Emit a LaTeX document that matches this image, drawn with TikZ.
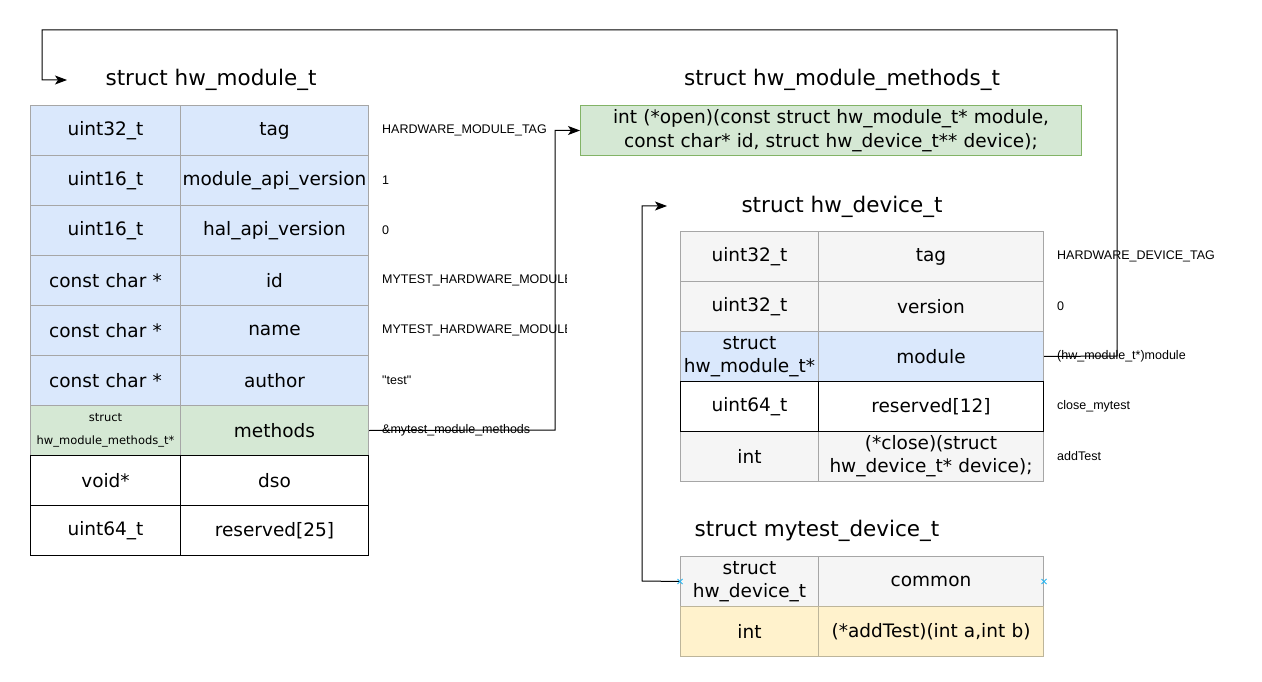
\documentclass[tikz,border=0pt]{standalone}
\usepackage{fontspec}
\setmainfont{DejaVu Sans}
\newfontfamily\labfont{Liberation Sans}
\usetikzlibrary{arrows.meta}
\definecolor{blueF}{HTML}{DAE8FC}
\definecolor{greenF}{HTML}{D5E8D4}
\definecolor{greyF}{HTML}{F5F5F5}
\definecolor{yellowF}{HTML}{FFF2CC}
\definecolor{cellB}{HTML}{A6A6A6}
\definecolor{greenB}{HTML}{82B366}
\definecolor{yellowB}{HTML}{BDB59A}
\definecolor{markB}{HTML}{29B6F2}
\tikzset{
  cellbox/.style={minimum height=50pt, inner sep=1pt, align=center, anchor=north west,
    font=\fontsize{18.5}{23}\selectfont, line width=1pt, draw=cellB},
  lcolA/.style={minimum width=150pt, text width=148pt},
  lcolB/.style={minimum width=188pt, text width=186pt},
  dcolA/.style={minimum width=138pt, text width=136pt},
  dcolB/.style={minimum width=225pt, text width=223pt},
  bluecell/.style={cellbox, fill=blueF},
  greencell/.style={cellbox, fill=greenF},
  greycell/.style={cellbox, fill=greyF},
  whitecell/.style={cellbox, fill=white, draw=black},
  yellowcell/.style={cellbox, fill=yellowF, draw=yellowB},
  titletext/.style={font=\fontsize{21.5}{24}\selectfont, inner sep=0},
  vallabel/.style={font=\labfont\fontsize{12.5}{14}\selectfont, anchor=west, inner sep=0},
  conn/.style={line width=1pt, draw=black},
  arrowconn/.style={conn, -{Stealth[length=12pt,width=9pt,inset=3pt]}},
}
\begin{document}
\begin{tikzpicture}[x=1pt,y=-1pt]
\useasboundingbox[fill=white] (0,0) rectangle (1262,682);

% ---------- struct hw_module_t ----------
\node[titletext] (tmod) at (211,80) {struct hw\_module\_t};
\node[bluecell,lcolA] (m0a) at (30,105) {uint32\_t};
\node[bluecell,lcolB] (m0b) at (180,105) {tag};
\node[bluecell,lcolA] (m1a) at (30,155) {uint16\_t};
\node[bluecell,lcolB] (m1b) at (180,155) {module\_api\_version};
\node[bluecell,lcolA] (m2a) at (30,205) {uint16\_t};
\node[bluecell,lcolB] (m2b) at (180,205) {hal\_api\_version};
\node[bluecell,lcolA] (m3a) at (30,255) {const char *};
\node[bluecell,lcolB] (m3b) at (180,255) {id};
\node[bluecell,lcolA] (m4a) at (30,305) {const char *};
\node[bluecell,lcolB] (m4b) at (180,305) {name};
\node[bluecell,lcolA] (m5a) at (30,355) {const char *};
\node[bluecell,lcolB] (m5b) at (180,355) {author};
\node[greencell,lcolA,font=\fontsize{11.5}{23}\selectfont] (m6a) at (30,405) {struct\\hw\_module\_methods\_t*};
\node[greencell,lcolB] (m6b) at (180,405) {methods};
\node[whitecell,lcolA] (m7a) at (30,455) {void*};
\node[whitecell,lcolB] (m7b) at (180,455) {dso};
\node[whitecell,lcolA] (m8a) at (30,505) {uint64\_t};
\node[whitecell,lcolB] (m8b) at (180,505) {reserved[25]};

\node[vallabel] (v0) at (382,130) {HARDWARE\_MODULE\_TAG};
\node[vallabel] (v1) at (382,180) {1};
\node[vallabel] (v2) at (382,230) {0};
\begin{scope}
  \clip (370,262) rectangle (566,350);
  \node[vallabel] (v3) at (382,280) {MYTEST\_HARDWARE\_MODULE\_ID};
  \node[vallabel] (v4) at (382,330) {MYTEST\_HARDWARE\_MODULE\_NAME};
\end{scope}
\node[vallabel] (v5) at (382,380) {"test"};
\node[vallabel] (v6) at (382,430) {\&mytest\_module\_methods};

% ---------- struct hw_module_methods_t ----------
\node[titletext] (tmeth) at (842,80) {struct hw\_module\_methods\_t};
\node[cellbox, fill=greenF, draw=greenB, minimum width=501pt, text width=497pt,
      font=\fontsize{18.5}{24}\selectfont] (meth) at (580,105)
  {int (*open)(const struct hw\_module\_t* module,\\const char* id, struct hw\_device\_t** device);};

% ---------- struct hw_device_t ----------
\node[titletext] (tdev) at (842,207) {struct hw\_device\_t};
\node[greycell,dcolA] (d0a) at (680,231) {uint32\_t};
\node[greycell,dcolB] (d0b) at (818,231) {tag};
\node[greycell,dcolA] (d1a) at (680,281) {uint32\_t};
\node[greycell,dcolB] (d1b) at (818,281) {version};
\node[bluecell,dcolA] (d2a) at (680,331) {struct\\hw\_module\_t*};
\node[bluecell,dcolB] (d2b) at (818,331) {module};
\node[greycell,dcolA] (d4a) at (680,431) {int};
\node[greycell,dcolB] (d4b) at (818,431) {(*close)(struct\\hw\_device\_t* device);};
\node[whitecell,dcolA] (d3a) at (680,381) {uint64\_t};
\node[whitecell,dcolB] (d3b) at (818,381) {reserved[12]};

\node[vallabel] (w0) at (1057,256) {HARDWARE\_DEVICE\_TAG};
\node[vallabel] (w1) at (1057,306) {0};
\node[vallabel] (w2) at (1057,356) {(hw\_module\_t*)module};
\node[vallabel] (w3) at (1057,406) {close\_mytest};
\node[vallabel] (w4) at (1057,456) {addTest};

% ---------- struct mytest_device_t ----------
\node[titletext] (tmy) at (817,531) {struct mytest\_device\_t};
\node[greycell,dcolA] (t0a) at (680,556) {struct\\hw\_device\_t};
\node[greycell,dcolB] (t0b) at (818,556) {common};
\node[yellowcell,dcolA] (t1a) at (680,606) {int};
\node[yellowcell,dcolB] (t1b) at (818,606) {(*addTest)(int a,int b)};

% ---------- connectors ----------
\coordinate (c1) at (555,430);
\draw[arrowconn] (m6b.east) -- (c1) |- (meth.west);

\coordinate (k1) at (1117,356);
\coordinate (k2) at (1117,30);
\coordinate (k3) at (42,30);
\coordinate (k4) at (42,80);
\coordinate (k5) at (67,80);
\draw[arrowconn] (d2b.east) -- (k1) -- (k2) -- (k3) -- (k4) -- (k5);

\coordinate (j1) at (642,581);
\coordinate (j2) at (642,206);
\coordinate (j3) at (667,206);
\draw[arrowconn] (t0a.west) -- (j1) -- (j2) -- (j3);

% connection point marks
\foreach \p in {t0a.west, t0b.east}{
  \draw[markB, line width=0.8pt] ([shift={(-2.5pt,-2.5pt)}]\p) -- ([shift={(2.5pt,2.5pt)}]\p)
    ([shift={(-2.5pt,2.5pt)}]\p) -- ([shift={(2.5pt,-2.5pt)}]\p);
}
\end{tikzpicture}
\end{document}
